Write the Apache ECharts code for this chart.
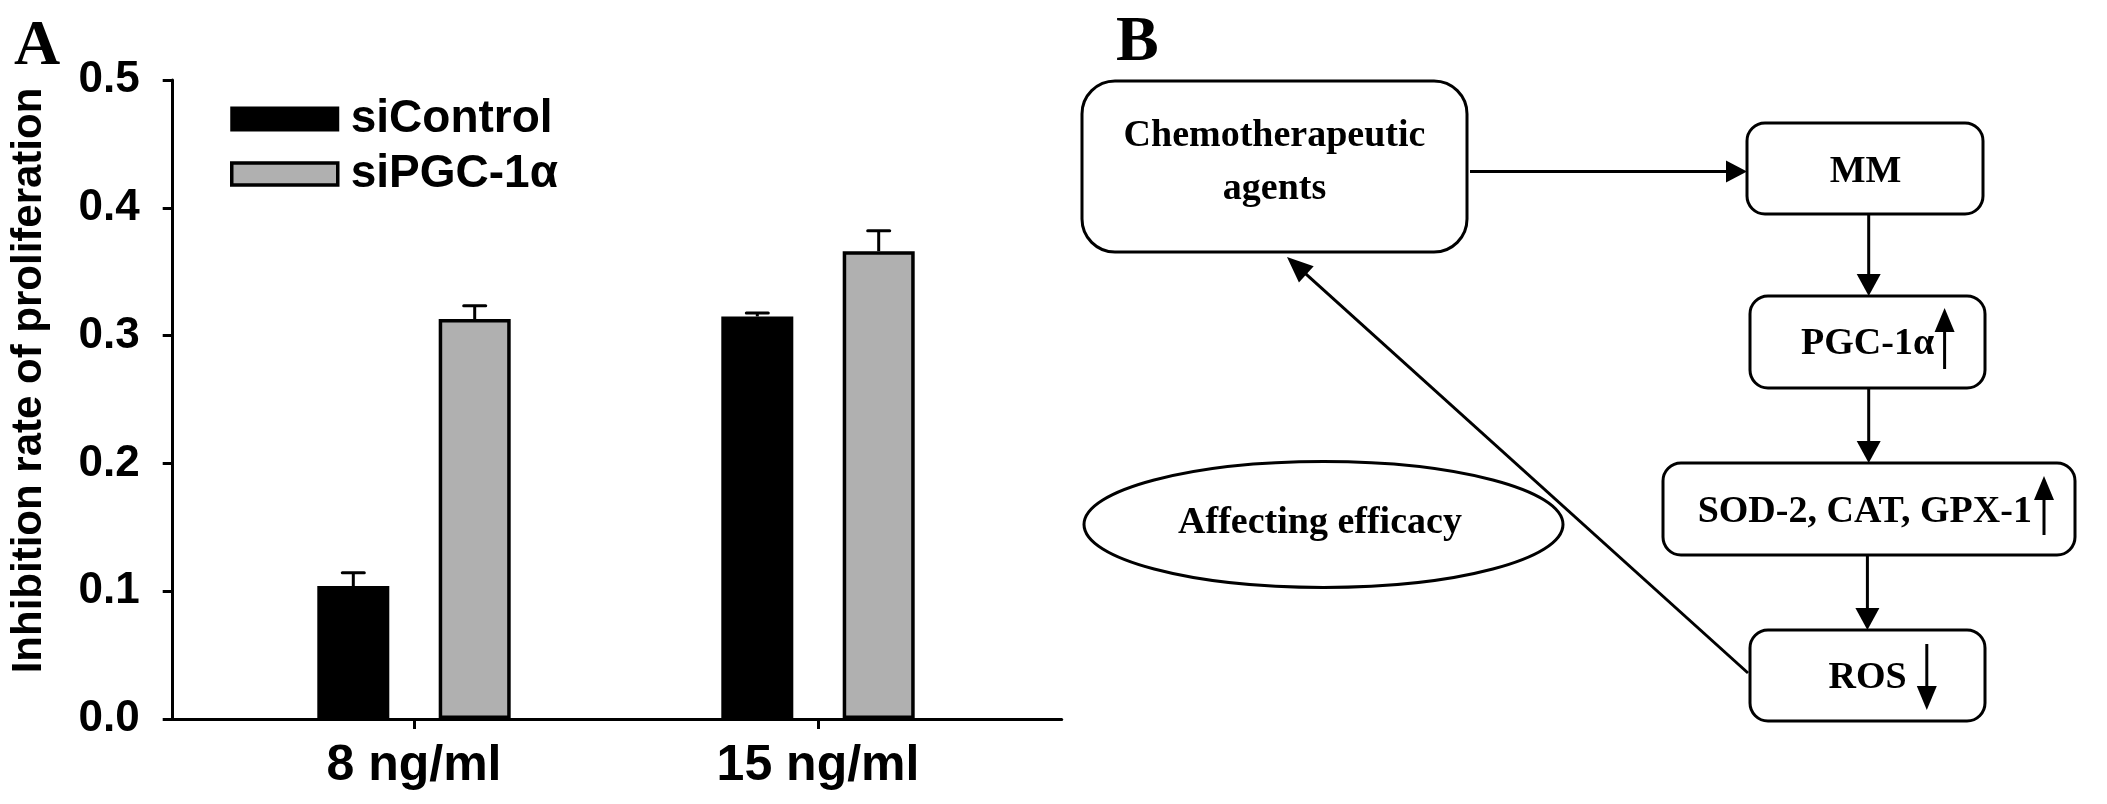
<!DOCTYPE html>
<html>
<head>
<meta charset="utf-8">
<script src="https://cdn.jsdelivr.net/npm/echarts@6/dist/echarts.min.js"></script>
<style>
  html, body { margin: 0; padding: 0; background: #fff; }
  #chart { width: 2107px; height: 804px; }
</style>
</head>
<body>
<div id="chart"></div>
<script>
// ---------- data ----------
const categories = ['8 ng/ml', '15 ng/ml'];
const seriesNames = ['siControl', 'siPGC-1α'];
const siControlValues = [0.104, 0.315];
const siControlErrors = [0.0105, 0.0026];
const siPGCValues = [0.313, 0.366];
const siPGCErrors = [0.0104, 0.016];
const yAxisTitle = 'Inhibition rate of proliferation';
const yMin = 0, yMax = 0.5, yStep = 0.1;
const panelLabels = ['A', 'B'];
const flowNodeTexts = ['Chemotherapeutic\nagents', 'MM', 'PGC-1α', 'SOD-2, CAT, GPX-1', 'ROS'];
const flowNoteText = 'Affecting efficacy';

// ---------- layout / style ----------
const SANS = '"Liberation Sans", Arial, sans-serif';
const SERIF = '"Liberation Serif", "Times New Roman", serif';
const BAR_WIDTH = 72;
const BAR_GAP = 0.686;
const BAR_OFFSET = (BAR_WIDTH + BAR_WIDTH * BAR_GAP) / 2;
const LW = 3;

function errorSeries(values, errors, sign, name) {
  return {
    type: 'custom',
    name: name,
    xAxisIndex: 1, yAxisIndex: 1,
    z: 5,
    silent: true,
    data: values.map((v, i) => [i, v, errors[i]]),
    renderItem: function (params, api) {
      const i = api.value(0), v = api.value(1), e = api.value(2);
      const base = api.coord([i, v]);
      const top = api.coord([i, v + e]);
      const x = base[0] + sign * BAR_OFFSET;
      const capHalf = 11;
      return {
        type: 'group',
        children: [
          { type: 'line', shape: { x1: x, y1: base[1], x2: x, y2: top[1] }, style: { stroke: '#000', lineWidth: LW } },
          { type: 'line', shape: { x1: x - capHalf, y1: top[1], x2: x + capHalf, y2: top[1] }, style: { stroke: '#000', lineWidth: LW, lineCap: 'round' } }
        ]
      };
    }
  };
}

// ---------- flowchart graphics ----------
function arrowHead(tx, ty, fx, fy, len, hw) {
  const dx = tx - fx, dy = ty - fy;
  const d = Math.sqrt(dx * dx + dy * dy);
  const ux = dx / d, uy = dy / d;
  const bx = tx - ux * len, by = ty - uy * len;
  return {
    type: 'polygon',
    shape: { points: [[tx, ty], [bx - uy * hw, by + ux * hw], [bx + uy * hw, by - ux * hw]] },
    style: { fill: '#000' }
  };
}
function arrow(fx, fy, tx, ty, len, hw, lw) {
  const dx = tx - fx, dy = ty - fy;
  const d = Math.sqrt(dx * dx + dy * dy);
  const ex = tx - dx / d * (len * 0.8), ey = ty - dy / d * (len * 0.8);
  return [
    { type: 'line', shape: { x1: fx, y1: fy, x2: ex, y2: ey }, style: { stroke: '#000', lineWidth: lw || LW } },
    arrowHead(tx, ty, fx, fy, len, hw)
  ];
}
function box(x1, y1, x2, y2, r) {
  return { type: 'rect', shape: { x: x1, y: y1, width: x2 - x1, height: y2 - y1, r: r },
           style: { fill: '#fff', stroke: '#000', lineWidth: LW } };
}
function label(text, x, y, size, family, lineHeight) {
  return { type: 'text', z: 10,
    style: { text: text, x: x, y: y, fill: '#000',
             font: 'bold ' + size + 'px ' + family,
             textAlign: 'center', textVerticalAlign: 'middle', align: 'center', verticalAlign: 'middle',
             lineHeight: lineHeight || size } };
}

const graphics = [];
// panel labels
graphics.push({ type: 'text', style: { text: panelLabels[0], x: 14, y: 79, fill: '#000', font: 'bold 64px ' + SERIF, textAlign: 'left', textVerticalAlign: 'bottom', align: 'left', verticalAlign: 'bottom' } });
graphics.push({ type: 'text', style: { text: panelLabels[1], x: 1116, y: 75, fill: '#000', font: 'bold 64px ' + SERIF, textAlign: 'left', textVerticalAlign: 'bottom', align: 'left', verticalAlign: 'bottom' } });
// boxes
graphics.push(box(1082, 81, 1467, 252, 33));
graphics.push(box(1747, 123, 1983, 214, 18));
graphics.push(box(1750, 296, 1985, 388, 18));
graphics.push(box(1663, 463, 2075, 555, 18));
graphics.push(box(1750, 630, 1985, 721, 18));
// ellipse
graphics.push({ type: 'ellipse', shape: { cx: 1323.5, cy: 524.5, rx: 239.5, ry: 63 }, style: { fill: '#fff', stroke: '#000', lineWidth: LW } });
// connector arrows
arrow(1470, 171.6, 1747, 171.6, 21, 11).forEach(g => graphics.push(g));
arrow(1868.7, 214, 1868.7, 296, 22, 12).forEach(g => graphics.push(g));
arrow(1868.7, 388, 1868.7, 463, 22, 12).forEach(g => graphics.push(g));
arrow(1867.4, 555, 1867.4, 630, 22, 12).forEach(g => graphics.push(g));
arrow(1748, 673, 1287, 257, 26, 11).forEach(g => graphics.push(g));
// in-text arrows
arrow(1944.6, 369, 1944.6, 308, 24, 10).forEach(g => graphics.push(g));
arrow(2044, 535, 2044, 476, 24, 10).forEach(g => graphics.push(g));
arrow(1926.8, 644, 1926.8, 710, 24, 10).forEach(g => graphics.push(g));
// texts
graphics.push(label(flowNodeTexts[0], 1274.5, 163, 38, SERIF, 53));
graphics.push(label(flowNodeTexts[1], 1865.6, 172, 38, SERIF));
graphics.push(label(flowNodeTexts[2], 1867.6, 344, 38, SERIF));
graphics.push(label(flowNodeTexts[3], 1864.8, 512, 38, SERIF));
graphics.push(label(flowNodeTexts[4], 1867.6, 678, 38, SERIF));
graphics.push(label(flowNoteText, 1320, 523, 38, SERIF));

// ---------- chart ----------
const chart = echarts.init(document.getElementById('chart'), null, { renderer: 'canvas', width: 2107, height: 804 });

const axisLineStyle = { color: '#000', width: LW };

const option = {
  backgroundColor: '#fff',
  animation: false,
  textStyle: { fontFamily: SANS },
  grid: [
    { left: 172.7, top: 80, width: 889, height: 639, containLabel: false },
    { left: 212, top: 80, width: 808, height: 639, containLabel: false }
  ],
  legend: {
    orient: 'vertical',
    left: 225, top: 91,
    itemWidth: 106, itemHeight: 22, itemGap: 9,
    icon: 'rect',
    textStyle: { fontSize: 46, fontWeight: 'bold', fontFamily: SANS, color: '#000', padding: [0, 0, 0, 8], lineHeight: 46 },
    data: [
      { name: seriesNames[0], itemStyle: { color: '#000', borderColor: '#000', borderWidth: 3 } },
      { name: seriesNames[1], itemStyle: { color: '#b0b0b0', borderColor: '#000', borderWidth: 3.5 } }
    ]
  },
  xAxis: [
    { type: 'value', gridIndex: 0, min: 0, max: 1,
      axisLine: { show: true, lineStyle: axisLineStyle }, axisTick: { show: false },
      axisLabel: { show: false }, splitLine: { show: false } },
    { type: 'category', gridIndex: 1, data: categories,
      axisLine: { show: false },
      axisTick: { show: true, alignWithLabel: true, length: 10, lineStyle: axisLineStyle },
      axisLabel: { color: '#000', fontSize: 50, fontWeight: 'bold', fontFamily: SANS, margin: 22 },
      splitLine: { show: false } }
  ],
  yAxis: [
    { type: 'value', gridIndex: 0, min: yMin, max: yMax, interval: yStep,
      name: yAxisTitle, nameLocation: 'middle', nameGap: 122,
      nameTextStyle: { color: '#000', fontSize: 42, fontWeight: 'bold', fontFamily: SANS, padding: [0, 0, 0, 38] },
      axisLine: { show: true, lineStyle: axisLineStyle },
      axisTick: { show: true, length: 10, lineStyle: axisLineStyle },
      axisLabel: { color: '#000', fontSize: 44, fontWeight: 'bold', fontFamily: SANS, margin: 33,
                   formatter: v => v.toFixed(1) },
      splitLine: { show: false } },
    { type: 'value', gridIndex: 1, min: yMin, max: yMax, interval: yStep, show: false, splitLine: { show: false } }
  ],
  series: [
    { type: 'bar', name: seriesNames[0], xAxisIndex: 1, yAxisIndex: 1,
      data: siControlValues, barWidth: BAR_WIDTH, barGap: (BAR_GAP * 100) + '%',
      itemStyle: { color: '#000', borderColor: '#000', borderWidth: 3 } },
    { type: 'bar', name: seriesNames[1], xAxisIndex: 1, yAxisIndex: 1,
      data: siPGCValues, barWidth: BAR_WIDTH, barGap: (BAR_GAP * 100) + '%',
      itemStyle: { color: '#b0b0b0', borderColor: '#000', borderWidth: 3.5 } },
    errorSeries(siControlValues, siControlErrors, -1, seriesNames[0]),
    errorSeries(siPGCValues, siPGCErrors, 1, seriesNames[1])
  ],
  graphic: { elements: graphics }
};
chart.setOption(option);
</script>
</body>
</html>
